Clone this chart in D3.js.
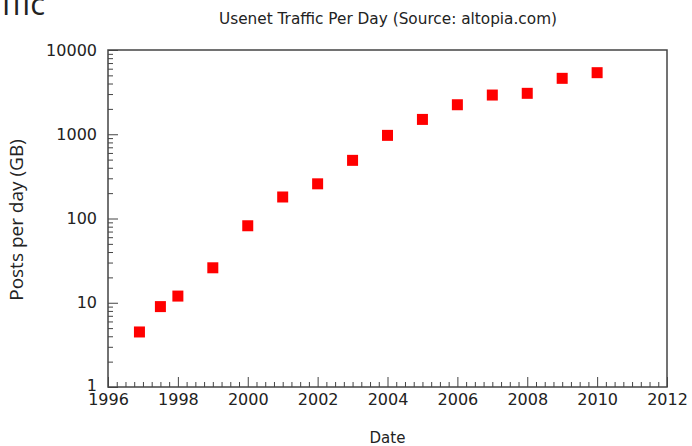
<!DOCTYPE html>
<html>
<head>
<meta charset="utf-8">
<script src="https://cdn.jsdelivr.net/npm/d3@7"></script>
<style>
  html, body { margin: 0; padding: 0; background: #fff; }
  svg { display: block; }
</style>
</head>
<body>
<div id="vis"></div>
<script>
// data
var years = [1996.9, 1997.5, 1998, 1999, 2000, 2001, 2002, 2003, 2004, 2005, 2006, 2007, 2008, 2009, 2010];
var postsGB = [4.5, 9, 12, 26, 82, 180, 258, 490, 970, 1500, 2240, 2920, 3060, 4610, 5380];
var xTicks = [1996, 1998, 2000, 2002, 2004, 2006, 2008, 2010, 2012];
var yTicks = [1, 10, 100, 1000, 10000];

var W = 692, H = 446;
var margin = { top: 50, right: 25, bottom: 59, left: 108 },
    width = W - margin.left - margin.right,
    height = H - margin.top - margin.bottom;

var svg = d3.select("#vis")
    .append("svg")
    .attr("width", W)
    .attr("height", H);

// cropped heading left over from the source image
svg.append("text")
    .attr("x", 45)
    .attr("y", 15)
    .attr("text-anchor", "end")
    .style("font-family", "Open Sans")
    .style("font-size", "31px")
    .attr("fill", "#222")
    .text("ffic");

svg.append("text")
    .attr("x", 388)
    .attr("y", 24)
    .attr("text-anchor", "middle")
    .style("font-family", "DejaVu Sans")
    .style("font-size", "15.3px")
    .attr("fill", "#222")
    .text("Usenet Traffic Per Day (Source: altopia.com)");

var g = svg.append("g")
    .attr("transform", "translate(" + margin.left + "," + margin.top + ")");

var x = d3.scaleLinear().domain([1996, 2012]).range([0, width]);
var y = d3.scaleLog().domain([1, 10000]).range([height, 0]);

// minor ticks (inside the frame)
var xMinor = d3.range(1996, 2012.001, 0.25).filter(function (d) { return Math.abs(d % 2) > 0.01; });
g.append("g")
    .attr("transform", "translate(0," + height + ")")
    .call(d3.axisBottom(x).tickValues(xMinor).tickSize(-5).tickFormat(""))
    .call(function (a) { a.select(".domain").remove(); })
    .selectAll("line").attr("stroke", "#444");

var yMinor = [];
[1, 10, 100, 1000].forEach(function (b) { for (var k = 2; k <= 9; k++) yMinor.push(b * k); });
g.append("g")
    .call(d3.axisLeft(y).tickValues(yMinor).tickSize(-5).tickFormat(""))
    .call(function (a) { a.select(".domain").remove(); })
    .selectAll("line").attr("stroke", "#444");

// major ticks and labels
var xAxis = g.append("g")
    .attr("transform", "translate(0," + height + ")")
    .call(d3.axisBottom(x).tickValues(xTicks).tickSizeInner(-10).tickSizeOuter(0).tickPadding(7).tickFormat(d3.format("d")));
xAxis.select(".domain").remove();
xAxis.selectAll("line").attr("stroke", "#444");
xAxis.selectAll("text")
    .style("font-family", "DejaVu Sans")
    .attr("font-size", "16px")
    .attr("fill", "#222");

var yAxis = g.append("g")
    .call(d3.axisLeft(y).tickValues(yTicks).tickSizeInner(-10).tickSizeOuter(0).tickPadding(11).tickFormat(d3.format("d")));
yAxis.select(".domain").remove();
yAxis.selectAll("line").attr("stroke", "#444");
yAxis.selectAll("text")
    .style("font-family", "DejaVu Sans")
    .attr("font-size", "16px")
    .attr("fill", "#222");
yAxis.selectAll(".tick").filter(function (d) { return d === 1; }).select("text").attr("dy", "0.2em");

// frame
g.append("rect")
    .attr("x", 0).attr("y", 0)
    .attr("width", width).attr("height", height)
    .attr("fill", "none")
    .attr("stroke", "#444")
    .attr("stroke-width", 1.5);

// points
var pts = years.map(function (d, i) { return { year: d, v: postsGB[i] }; });
var s = 11;
g.selectAll("rect.pt")
    .data(pts)
    .enter()
    .append("rect")
    .attr("class", "pt")
    .attr("x", function (d) { return x(d.year) - s / 2; })
    .attr("y", function (d) { return y(d.v) - s / 2; })
    .attr("width", s)
    .attr("height", s)
    .attr("fill", "#ff0000");

// axis titles
svg.append("text")
    .attr("x", margin.left + width / 2)
    .attr("y", 443)
    .attr("text-anchor", "middle")
    .style("font-family", "DejaVu Sans")
    .style("font-size", "15px")
    .attr("fill", "#222")
    .text("Date");

svg.append("text")
    .attr("transform", "translate(23,220) rotate(-90)")
    .attr("text-anchor", "middle")
    .style("font-family", "Open Sans")
    .style("font-size", "19px")
    .attr("fill", "#222")
    .text("Posts per day (GB)");
</script>
</body>
</html>
